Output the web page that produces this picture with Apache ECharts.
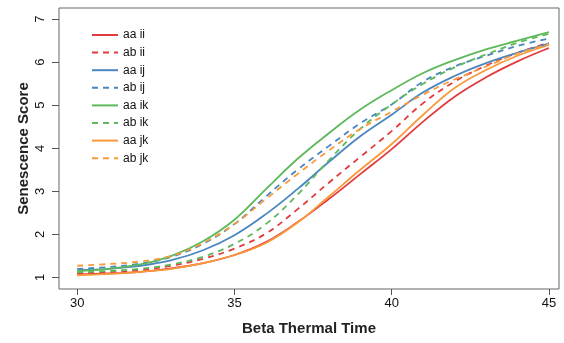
<!DOCTYPE html>
<html>
<head>
<meta charset="utf-8">
<script src="https://cdn.jsdelivr.net/npm/echarts@6/dist/echarts.min.js"></script>
<style>html,body{margin:0;padding:0;background:#fff;}#c{width:564px;height:343px;}</style>
</head>
<body>
<div id="c"></div>
<script>
const xValues = [30,31,32,33,34,35,36,37,38,39,40,41,42,43,44,45];
const xTicks = [30,35,40,45];
const yTicks = [1,2,3,4,5,6,7];
const seriesNames = ['aa ii','ab ii','aa ij','ab ij','aa ik','ab ik','aa jk','ab jk'];
const aaII = [1.07,1.09,1.13,1.21,1.33,1.52,1.82,2.28,2.82,3.40,3.98,4.62,5.20,5.65,6.02,6.33];
const abII = [1.10,1.12,1.17,1.27,1.43,1.67,2.02,2.58,3.20,3.80,4.40,5.05,5.55,5.92,6.22,6.45];
const aaIJ = [1.17,1.20,1.27,1.40,1.63,1.98,2.47,3.05,3.68,4.28,4.78,5.30,5.68,5.98,6.22,6.43];
const abIJ = [1.20,1.24,1.32,1.48,1.78,2.24,2.88,3.50,4.05,4.58,5.02,5.55,5.90,6.15,6.38,6.55];
const aaIK = [1.15,1.20,1.30,1.50,1.84,2.34,3.05,3.75,4.35,4.90,5.35,5.75,6.05,6.30,6.50,6.70];
const abIK = [1.12,1.15,1.20,1.30,1.48,1.78,2.24,2.92,3.72,4.45,5.02,5.50,5.88,6.18,6.45,6.66];
const aaJK = [1.05,1.08,1.13,1.20,1.33,1.52,1.80,2.27,2.88,3.50,4.10,4.78,5.40,5.82,6.15,6.40];
const abJK = [1.27,1.31,1.37,1.50,1.80,2.24,2.82,3.40,3.95,4.45,4.85,5.25,5.60,5.90,6.20,6.42];
const seriesData = [aaII, abII, aaIJ, abIJ, aaIK, abIK, aaJK, abJK];
const colors = ['#e23b3d','#e23b3d','#4a86c0','#4a86c0','#5db95a','#5db95a','#f8993a','#f8993a'];
const dashed = [false,true,false,true,false,true,false,true];

const font = 'Liberation Sans, Arial, sans-serif';
const chart = echarts.init(document.getElementById('c'), null, {renderer:'canvas'});
chart.setOption({
  animation: false,
  backgroundColor: '#fff',
  grid: {left: 59, right: 5, top: 8, bottom: 54, show: true, borderColor: '#666', borderWidth: 1, backgroundColor: 'transparent'},
  legend: {
    orient: 'vertical', left: 91, top: 29, padding: 0, itemWidth: 26, itemHeight: 10, itemGap: 5.6,
    itemStyle: {opacity: 0},
    textStyle: {fontFamily: font, fontSize: 12, color: '#111'},
    data: seriesNames
  },
  xAxis: {
    type: 'value', min: 29.42, max: 45.32,
    name: 'Beta Thermal Time', nameLocation: 'middle', nameGap: 32,
    nameTextStyle: {fontFamily: font, fontSize: 15, fontWeight: 'bold', color: '#222'},
    axisLine: {show: false},
    axisTick: {show: true, length: 6, lineStyle: {color: '#555'}, customValues: xTicks},
    axisLabel: {fontFamily: font, fontSize: 13, color: '#111', margin: 8, customValues: xTicks},
    splitLine: {show: false}
  },
  yAxis: {
    type: 'value', min: 0.73, max: 7.26,
    name: 'Senescence Score', nameLocation: 'middle', nameGap: 28, nameRotate: 90,
    nameMoveOverlap: false,
    nameTextStyle: {fontFamily: font, fontSize: 15, fontWeight: 'bold', color: '#222'},
    axisLine: {show: false},
    axisTick: {show: true, length: 7, lineStyle: {color: '#555'}, customValues: yTicks},
    axisLabel: {fontFamily: font, fontSize: 13, color: '#111', margin: 12, rotate: 90, customValues: yTicks},
    splitLine: {show: false}
  },
  series: seriesNames.map((n, i) => ({
    name: n, type: 'line', smooth: 0.4, symbol: 'none',
    data: xValues.map((x, j) => [x, seriesData[i][j]]),
    itemStyle: {color: colors[i]},
    lineStyle: {color: colors[i], width: 1.8, type: dashed[i] ? [6,5] : 'solid'}
  }))
});
</script>
</body>
</html>
